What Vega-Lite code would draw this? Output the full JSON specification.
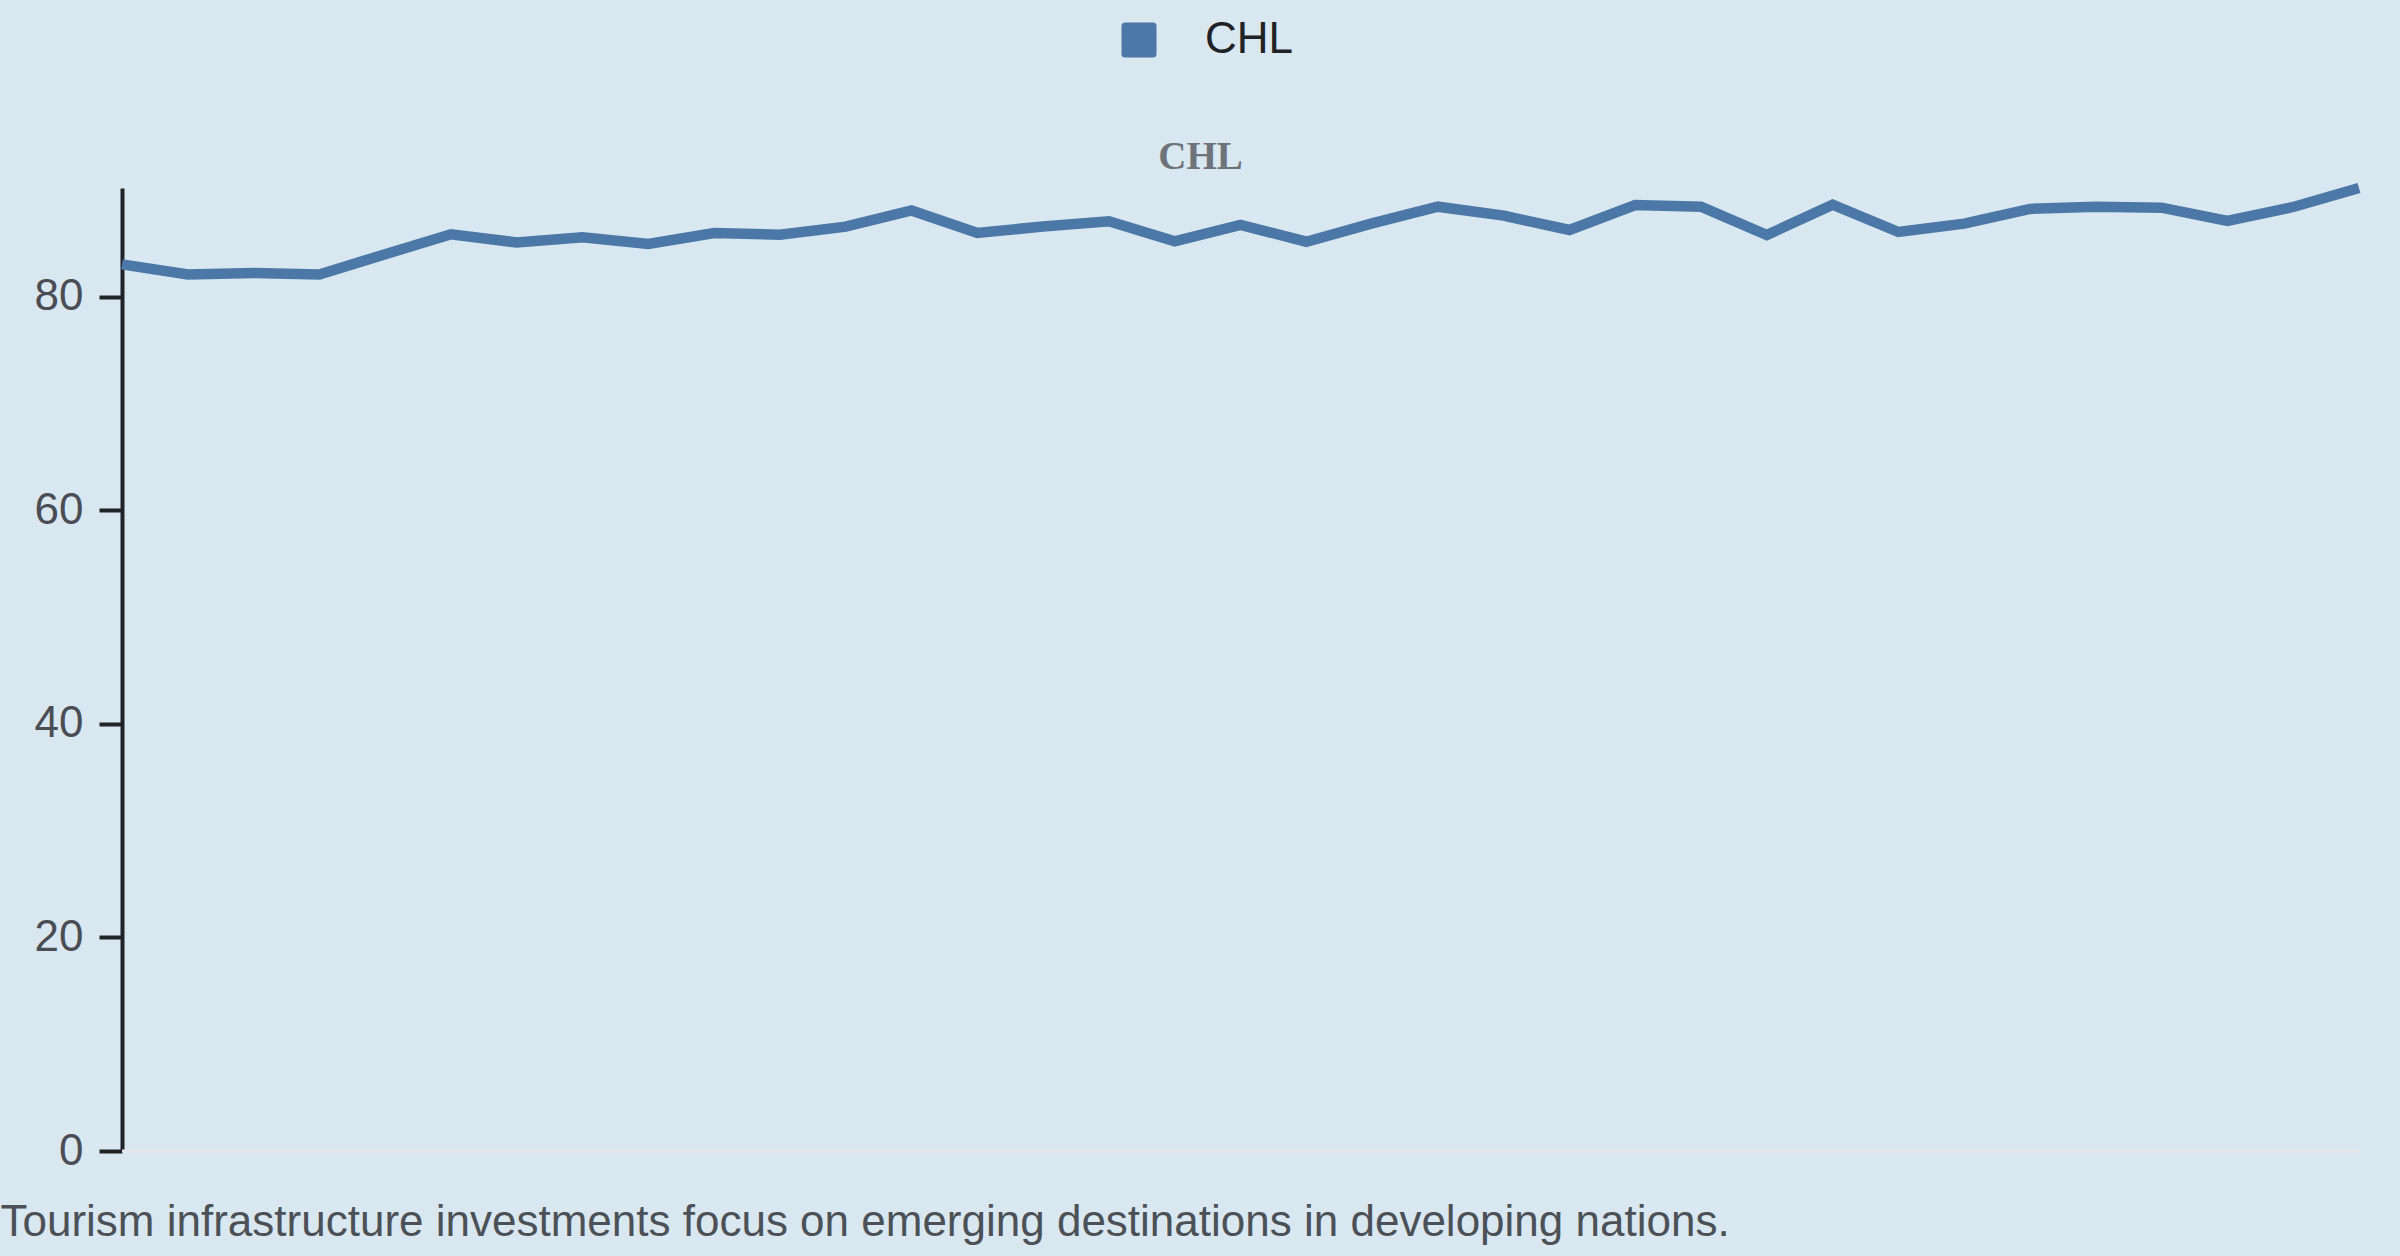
{
  "$schema": "https://vega.github.io/schema/vega-lite/v6.json",
  "width": 2237,
  "height": 963,
  "autosize": {"type": "none"},
  "padding": {"left": 122, "top": 188, "right": 41, "bottom": 105},
  "background": "#d9e7f0",
  "config": {"view": {"stroke": null}, "font": "Liberation Sans"},
  "data": {
    "values": [
      {"year": 1990, "country": "CHL", "value": 83.05},
      {"year": 1991, "country": "CHL", "value": 82.1},
      {"year": 1992, "country": "CHL", "value": 82.24},
      {"year": 1993, "country": "CHL", "value": 82.1},
      {"year": 1994, "country": "CHL", "value": 84.0},
      {"year": 1995, "country": "CHL", "value": 85.86},
      {"year": 1996, "country": "CHL", "value": 85.1},
      {"year": 1997, "country": "CHL", "value": 85.58},
      {"year": 1998, "country": "CHL", "value": 84.96},
      {"year": 1999, "country": "CHL", "value": 85.99},
      {"year": 2000, "country": "CHL", "value": 85.83},
      {"year": 2001, "country": "CHL", "value": 86.58},
      {"year": 2002, "country": "CHL", "value": 88.1},
      {"year": 2003, "country": "CHL", "value": 85.99},
      {"year": 2004, "country": "CHL", "value": 86.6},
      {"year": 2005, "country": "CHL", "value": 87.08},
      {"year": 2006, "country": "CHL", "value": 85.2},
      {"year": 2007, "country": "CHL", "value": 86.74},
      {"year": 2008, "country": "CHL", "value": 85.17},
      {"year": 2009, "country": "CHL", "value": 86.89},
      {"year": 2010, "country": "CHL", "value": 88.45},
      {"year": 2011, "country": "CHL", "value": 87.61},
      {"year": 2012, "country": "CHL", "value": 86.27},
      {"year": 2013, "country": "CHL", "value": 88.61},
      {"year": 2014, "country": "CHL", "value": 88.45},
      {"year": 2015, "country": "CHL", "value": 85.8},
      {"year": 2016, "country": "CHL", "value": 88.64},
      {"year": 2017, "country": "CHL", "value": 86.08},
      {"year": 2018, "country": "CHL", "value": 86.86},
      {"year": 2019, "country": "CHL", "value": 88.24},
      {"year": 2020, "country": "CHL", "value": 88.45},
      {"year": 2021, "country": "CHL", "value": 88.36},
      {"year": 2022, "country": "CHL", "value": 87.11},
      {"year": 2023, "country": "CHL", "value": 88.42},
      {"year": 2024, "country": "CHL", "value": 90.2}
    ]
  },
  "layer": [
    {
      "mark": {"type": "rule", "color": "#e4e6ea", "strokeWidth": 3},
      "encoding": {
        "x": {
          "aggregate": "min", "field": "year", "type": "quantitative",
          "scale": {"zero": false, "nice": false},
          "axis": {
            "orient": "top", "domain": false, "ticks": false, "labels": false, "grid": false,
            "title": "CHL", "titleFont": "Liberation Serif", "titleFontSize": 39,
            "titleFontWeight": "bold", "titleColor": "#6e737a",
            "titleX": 1078, "titleY": -20, "titleAlign": "center", "titleBaseline": "alphabetic"
          }
        },
        "x2": {"aggregate": "max", "field": "year"},
        "y": {"datum": 0, "type": "quantitative"}
      }
    },
    {
      "mark": {"type": "line", "strokeWidth": 10.5},
      "encoding": {
        "x": {
          "field": "year", "type": "quantitative",
          "scale": {"zero": false, "nice": false},
          "axis": {
            "orient": "bottom", "domain": false, "ticks": false, "labels": false, "grid": false,
            "title": "Tourism infrastructure investments focus on emerging destinations in developing nations.",
            "titleFont": "Liberation Sans", "titleFontSize": 44, "titleFontWeight": "normal",
            "titleColor": "#4b5157", "titleX": -122, "titleY": 84,
            "titleAlign": "left", "titleBaseline": "alphabetic"
          }
        },
        "y": {
          "field": "value", "type": "quantitative",
          "scale": {"zero": true, "nice": false},
          "axis": {
            "title": null, "values": [0, 20, 40, 60, 80], "grid": false,
            "labelFontSize": 44, "labelColor": "#4a4e54", "labelPadding": 16,
            "tickSize": 23, "tickWidth": 4, "tickColor": "#1f2328",
            "domainColor": "#1f2328", "domainWidth": 4
          }
        },
        "color": {
          "field": "country", "type": "nominal",
          "scale": {"range": ["#4c78a8"]},
          "legend": {
            "orient": "none", "legendX": 995, "legendY": -170, "title": null,
            "labelFontSize": 44, "labelColor": "#1f2226", "labelOffset": 44,
            "symbolType": "M-0.8,-1H0.8Q1,-1,1,-0.8V0.8Q1,1,0.8,1H-0.8Q-1,1,-1,0.8V-0.8Q-1,-1,-0.8,-1Z",
            "symbolSize": 1225, "symbolFillColor": "#4c78a8", "symbolStrokeWidth": 0,
            "encode": {"symbols": {"update": {"fill": {"value": "#4c78a8"}, "strokeWidth": {"value": 0}}}}
          }
        }
      }
    }
  ],
  "resolve": {"axis": {"x": "independent"}}
}
